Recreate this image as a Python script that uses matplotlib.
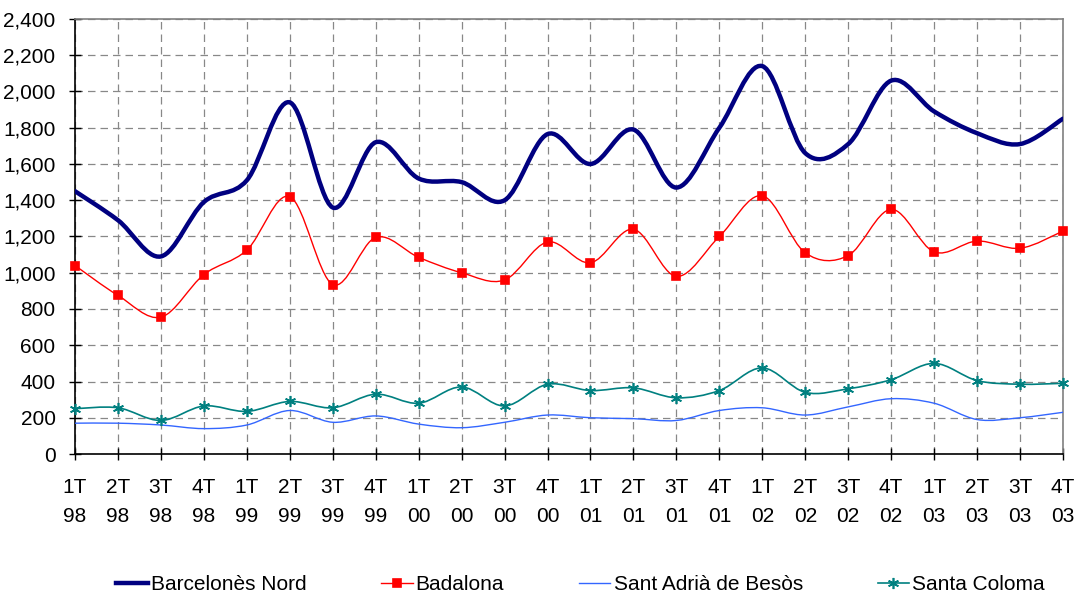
import matplotlib
matplotlib.use("Agg")
import matplotlib.pyplot as plt
import numpy as np
from matplotlib.path import Path
from matplotlib.patches import PathPatch
from matplotlib.ticker import FuncFormatter

plt.rcParams['font.family'] = ['Liberation Sans', 'DejaVu Sans']

# quarters 1T98 .. 4T03
quarters = ["1T\n98", "2T\n98", "3T\n98", "4T\n98", "1T\n99", "2T\n99", "3T\n99", "4T\n99",
            "1T\n00", "2T\n00", "3T\n00", "4T\n00", "1T\n01", "2T\n01", "3T\n01", "4T\n01",
            "1T\n02", "2T\n02", "3T\n02", "4T\n02", "1T\n03", "2T\n03", "3T\n03", "4T\n03"]

barcelones_nord = [1450, 1290, 1090, 1390, 1510, 1940, 1360, 1720,
                   1520, 1500, 1400, 1765, 1600, 1790, 1470, 1800,
                   2140, 1660, 1710, 2060, 1890, 1770, 1710, 1850]
badalona = [1040, 875, 755, 990, 1125, 1420, 935, 1195,
            1085, 1000, 960, 1170, 1055, 1240, 980, 1200,
            1425, 1110, 1095, 1350, 1115, 1175, 1135, 1230]
sant_adria = [170, 170, 160, 140, 160, 240, 175, 210,
              165, 145, 175, 215, 200, 195, 185, 240,
              255, 215, 260, 305, 280, 190, 200, 230]
santa_coloma = [250, 255, 185, 265, 235, 290, 255, 330,
                280, 370, 265, 385, 350, 365, 310, 350,
                475, 340, 360, 410, 500, 405, 385, 390]


def smooth_path(x, y):
    # Excel-like smoothed line: cubic Bezier through every point
    pts = np.column_stack([x, y]).astype(float)
    n = len(pts)
    verts = [pts[0]]
    codes = [Path.MOVETO]
    for i in range(n - 1):
        p0 = pts[i - 1] if i > 0 else pts[i]
        p1 = pts[i]
        p2 = pts[i + 1]
        p3 = pts[i + 2] if i + 2 < n else pts[i + 1]
        c1 = p1 + (p2 - p0) / 6.0
        c2 = p2 - (p3 - p1) / 6.0
        verts += [c1, c2, p2]
        codes += [Path.CURVE4] * 3
    return Path(verts, codes)


fig = plt.figure(figsize=(10.78, 5.96), dpi=100)
ax = fig.add_axes([75 / 1078, 1 - 454 / 596, (1063 - 75) / 1078, (454 - 19) / 596])

xs = np.arange(len(quarters))

series = [
    ("Barcelonès Nord", barcelones_nord, "#000080", 3.2, None, 0),
    ("Badalona", badalona, "#FF0000", 1.0, "s", 6),
    ("Sant Adrià de Besòs", sant_adria, "#3366FF", 1.0, None, 0),
    ("Santa Coloma", santa_coloma, "#008080", 1.2, (6, 2, 0), 8),
]

handles = []
for name, vals, col, lw, mk, ms in series:
    ax.add_patch(PathPatch(smooth_path(xs, vals), facecolor="none", edgecolor=col,
                           lw=lw, capstyle="round", joinstyle="round", zorder=3))
    if mk is not None:
        ax.plot(xs, vals, linestyle="none", marker=mk, markersize=ms, color=col,
                markeredgecolor=col, markeredgewidth=1.2, zorder=4, clip_on=False)
    h, = ax.plot([], [], color=col, lw=lw, marker=mk, markersize=ms,
                 markeredgewidth=1.2)
    handles.append(h)

ax.set_xlim(0, len(quarters) - 1)
ax.set_ylim(0, 2400)
ax.set_yticks(np.arange(0, 2401, 200))
ax.yaxis.set_major_formatter(FuncFormatter(lambda v, p: f"{int(v):,}"))
ax.set_xticks(xs)
ax.set_xticklabels(quarters, linespacing=1.7)

ax.grid(True, color="#888888", linestyle=(0, (6, 4)), linewidth=0.9)
ax.set_axisbelow(True)
for s in ["top", "right"]:
    ax.spines[s].set_color("#808080")
    ax.spines[s].set_linewidth(1.2)
for s in ["left", "bottom"]:
    ax.spines[s].set_color("black")
    ax.spines[s].set_linewidth(1.2)

ax.tick_params(axis="both", direction="inout", length=8, width=1, labelsize=15)
ax.tick_params(axis="y", pad=10)
ax.tick_params(axis="x", pad=13)

fig.legend(handles, [s[0] for s in series], loc="center", ncol=4,
           bbox_to_anchor=(0.5385, 1 - 585 / 596), frameon=False, fontsize=15,
           handlelength=1.5, handletextpad=0.15, columnspacing=3.6)

fig.savefig("out.png", dpi=100)
